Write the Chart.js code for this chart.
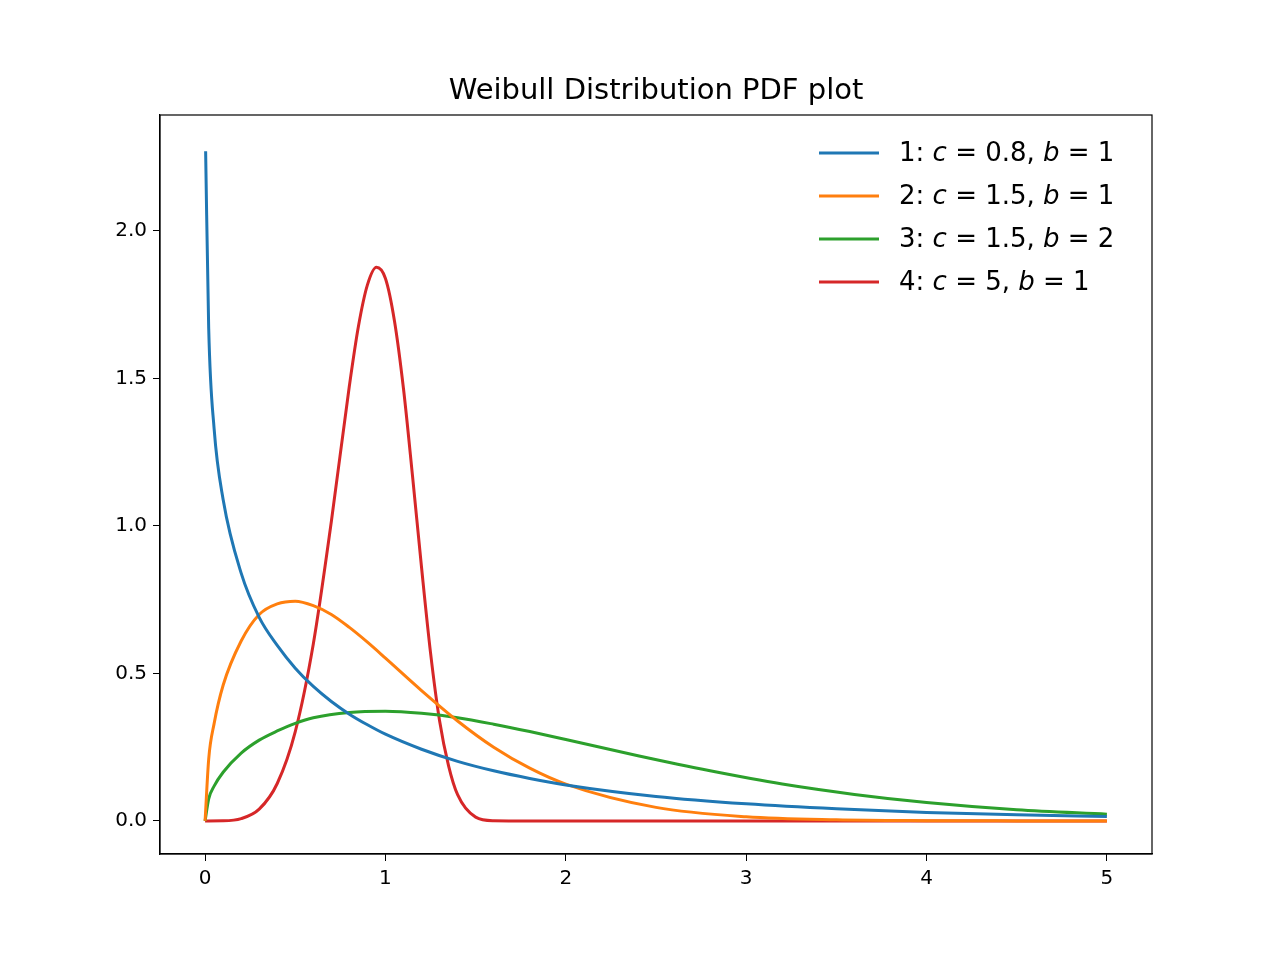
<!DOCTYPE html>
<html>
<head>
<script src="https://cdn.jsdelivr.net/npm/chart.js@4/dist/chart.umd.min.js"></script>
<style>body{margin:0;background:#fff}</style>
</head>
<body>
<canvas id="myChart" width="1280" height="960"></canvas>
<script>
    // Values
    const x1 = [0.003, 0.02, 0.05, 0.1, 0.2, 0.3, 0.4, 0.5, 0.6, 0.7, 0.8, 0.9, 1.0, 1.2, 1.4, 1.6, 1.8, 2.0, 2.5, 3, 3.5, 4, 4.5, 5];
    const y1 = [2.27, 1.67, 1.33, 1.09, 0.84, 0.69, 0.595, 0.518, 0.456, 0.405, 0.362, 0.326, 0.294, 0.243, 0.202, 0.17, 0.144, 0.122, 0.083, 0.058, 0.041, 0.029, 0.021, 0.0155];
    const x2 = [0, 0.02, 0.05, 0.1, 0.2, 0.3, 0.4, 0.5, 0.6, 0.7, 0.8, 0.9, 1.0, 1.2, 1.4, 1.6, 1.8, 2.0, 2.5, 3, 3.5, 4, 4.5, 5];
    const y2 = [0, 0.21, 0.33, 0.46, 0.61, 0.70, 0.736, 0.745, 0.73, 0.70, 0.656, 0.606, 0.552, 0.442, 0.339, 0.25, 0.179, 0.125, 0.046, 0.0143, 0.004, 0.001, 0.0002, 0];
    const x3 = [0, 0.02, 0.05, 0.1, 0.2, 0.3, 0.4, 0.5, 0.6, 0.8, 1.0, 1.2, 1.4, 1.6, 1.8, 2.0, 2.4, 2.8, 3.2, 3.6, 4.0, 4.5, 5];
    const y3 = [0, 0.075, 0.118, 0.165, 0.23, 0.274, 0.305, 0.331, 0.35, 0.368, 0.372, 0.365, 0.35, 0.328, 0.303, 0.276, 0.221, 0.17, 0.125, 0.09, 0.0625, 0.038, 0.023];
    const x4 = [0, 0.1, 0.2, 0.3, 0.4, 0.5, 0.6, 0.7, 0.8, 0.85, 0.9, 0.95, 1.0, 1.05, 1.1, 1.15, 1.2, 1.25, 1.3, 1.35, 1.4, 1.5, 1.6, 1.8, 5];
    const y4 = [0, 0.0005, 0.008, 0.04, 0.127, 0.303, 0.6, 1.015, 1.475, 1.676, 1.817, 1.877, 1.839, 1.695, 1.465, 1.17, 0.86, 0.57, 0.34, 0.187, 0.089, 0.013, 0.0009, 0, 0];
    const xTicks = [0, 1, 2, 3, 4, 5];
    const yTicks = [0, 0.5, 1.0, 1.5, 2.0];
    const names = [['1: ', 'c', ' = 0.8, ', 'b', ' = 1'], ['2: ', 'c', ' = 1.5, ', 'b', ' = 1'],
                   ['3: ', 'c', ' = 1.5, ', 'b', ' = 2'], ['4: ', 'c', ' = 5, ', 'b', ' = 1']];
    const colors = ['#1f77b4', '#ff7f0e', '#2ca02c', '#d62728'];

    const FONT = 'DejaVu Sans';
    const pts = (xs, ys) => xs.map((x, i) => ({ x: x, y: ys[i] }));
    const sets = [[x1, y1], [x2, y2], [x3, y3], [x4, y4]];

    // title, top/right frame and the legend with italic letters
    const extras = {
        id: 'extras',
        afterDraw(chart) {
            const ctx = chart.ctx, a = chart.chartArea;
            ctx.save();
            ctx.strokeStyle = '#000';
            ctx.lineWidth = 1.2;
            ctx.strokeRect(a.left, a.top, a.right - a.left, a.bottom - a.top);
            ctx.fillStyle = '#000';
            ctx.textAlign = 'center';
            ctx.textBaseline = 'alphabetic';
            ctx.font = '29px ' + FONT;
            ctx.fillText('Weibull Distribution PDF plot', (a.left + a.right) / 2, 99);
            ctx.textAlign = 'left';
            ctx.textBaseline = 'middle';
            names.forEach((parts, i) => {
                const y = 153 + i * 43;
                ctx.strokeStyle = colors[i];
                ctx.lineWidth = 3;
                ctx.beginPath(); ctx.moveTo(819, y); ctx.lineTo(879, y); ctx.stroke();
                let x = 899;
                parts.forEach((p, j) => {
                    ctx.font = (j % 2 ? 'italic ' : '') + '26px ' + FONT;
                    ctx.fillStyle = '#000';
                    ctx.fillText(p, x, y + 1);
                    x += ctx.measureText(p).width;
                });
            });
            ctx.restore();
        }
    };

    const tickStyle = { color: '#000', font: { family: FONT, size: 20 }, padding: 6 };
    new Chart(document.getElementById('myChart').getContext('2d'), {
        type: 'scatter',
        data: {
            datasets: sets.map((s, i) => ({
                data: pts(s[0], s[1]),
                showLine: true,
                borderColor: colors[i],
                borderWidth: 3,
                pointRadius: 0,
                cubicInterpolationMode: 'monotone',
                fill: false
            }))
        },
        options: {
            responsive: false,
            animation: false,
            layout: { padding: { top: 115, right: 128, left: 0, bottom: 0 } },
            plugins: { legend: { display: false }, tooltip: { enabled: false } },
            scales: {
                x: {
                    type: 'linear', min: -0.25, max: 5.25,
                    afterBuildTicks: s => { s.ticks = xTicks.map(v => ({ value: v })); },
                    afterFit: s => { s.height = 106; },
                    ticks: tickStyle,
                    grid: { drawOnChartArea: false, drawTicks: true, tickLength: 7, color: '#000' },
                    border: { color: '#000', width: 1.2 }
                },
                y: {
                    type: 'linear', min: -0.112, max: 2.393,
                    afterBuildTicks: s => { s.ticks = yTicks.map(v => ({ value: v })); },
                    afterFit: s => { s.width = 160; },
                    ticks: Object.assign({}, tickStyle, { callback: v => v.toFixed(1) }),
                    grid: { drawOnChartArea: false, drawTicks: true, tickLength: 7, color: '#000' },
                    border: { color: '#000', width: 1.2 }
                }
            }
        },
        plugins: [extras]
    });
</script>
</body>
</html>
